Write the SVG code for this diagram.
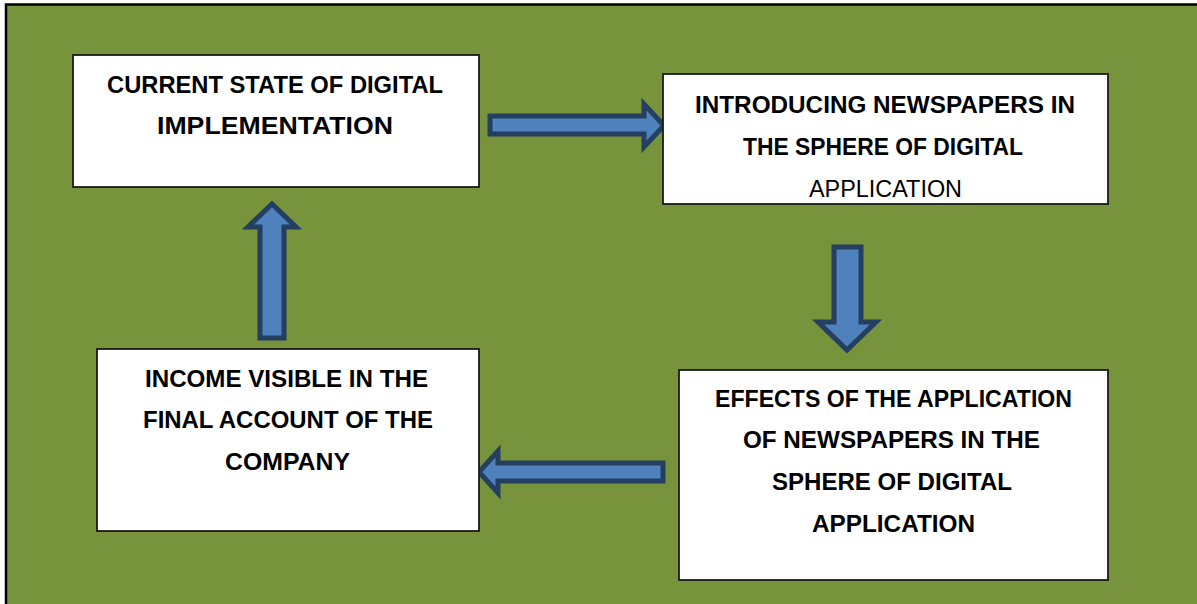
<svg xmlns="http://www.w3.org/2000/svg" width="1197" height="604" viewBox="0 0 1197 604">
<style>
.bg{fill:#77933C;stroke:#000;stroke-width:2.5}
.box{fill:#fff;stroke:#1a1a1a;stroke-width:1.8}
.arr{fill:#4F81BD;stroke:#243F60;stroke-width:5;stroke-linejoin:miter}
.t{font-family:"Liberation Sans",Arial,sans-serif;font-size:23px;font-weight:bold;fill:#000;text-anchor:middle}
.n{font-weight:normal}
</style>
<rect class="bg" x="6" y="4.5" width="1200" height="610"/>
<g id="connectors">
<path class="arr" d="M490,116 H644 V104 L664,125.5 L644,147 V134 H490 Z"/>
<path class="arr" d="M834,247 H861 V322 H876 L847,350 L818,322 H834 Z"/>
<path class="arr" d="M663,463 V481 H498 V493 L479,472 L498,451 V463 Z"/>
<path class="arr" d="M260,338 V227 H248 L272,204 L296,227 H284 V338 Z"/>
</g>
<g id="node1">
<rect class="box" x="73" y="55" width="406" height="132"/>
<text class="t" x="275" y="93" textLength="336" lengthAdjust="spacingAndGlyphs">CURRENT STATE OF DIGITAL</text>
<text class="t" x="275" y="134" textLength="236" lengthAdjust="spacingAndGlyphs">IMPLEMENTATION</text>
</g>
<g id="node2">
<rect class="box" x="663" y="74" width="445" height="130"/>
<text class="t" x="885" y="113" textLength="380" lengthAdjust="spacingAndGlyphs">INTRODUCING NEWSPAPERS IN</text>
<text class="t" x="883" y="155" textLength="280" lengthAdjust="spacingAndGlyphs">THE SPHERE OF DIGITAL</text>
<text class="t n" x="885.5" y="197" textLength="153" lengthAdjust="spacingAndGlyphs">APPLICATION</text>
</g>
<g id="node3">
<rect class="box" x="679" y="370" width="429" height="210"/>
<text class="t" x="893.5" y="407" textLength="357" lengthAdjust="spacingAndGlyphs">EFFECTS OF THE APPLICATION</text>
<text class="t" x="891.5" y="448" textLength="297" lengthAdjust="spacingAndGlyphs">OF NEWSPAPERS IN THE</text>
<text class="t" x="892" y="490" textLength="240" lengthAdjust="spacingAndGlyphs">SPHERE OF DIGITAL</text>
<text class="t" x="893.5" y="532" textLength="163" lengthAdjust="spacingAndGlyphs">APPLICATION</text>
</g>
<g id="node4">
<rect class="box" x="97" y="349" width="382" height="182"/>
<text class="t" x="286.5" y="387" textLength="283" lengthAdjust="spacingAndGlyphs">INCOME VISIBLE IN THE</text>
<text class="t" x="288" y="428" textLength="290" lengthAdjust="spacingAndGlyphs">FINAL ACCOUNT OF THE</text>
<text class="t" x="287.5" y="470" textLength="125" lengthAdjust="spacingAndGlyphs">COMPANY</text>
</g>
</svg>
